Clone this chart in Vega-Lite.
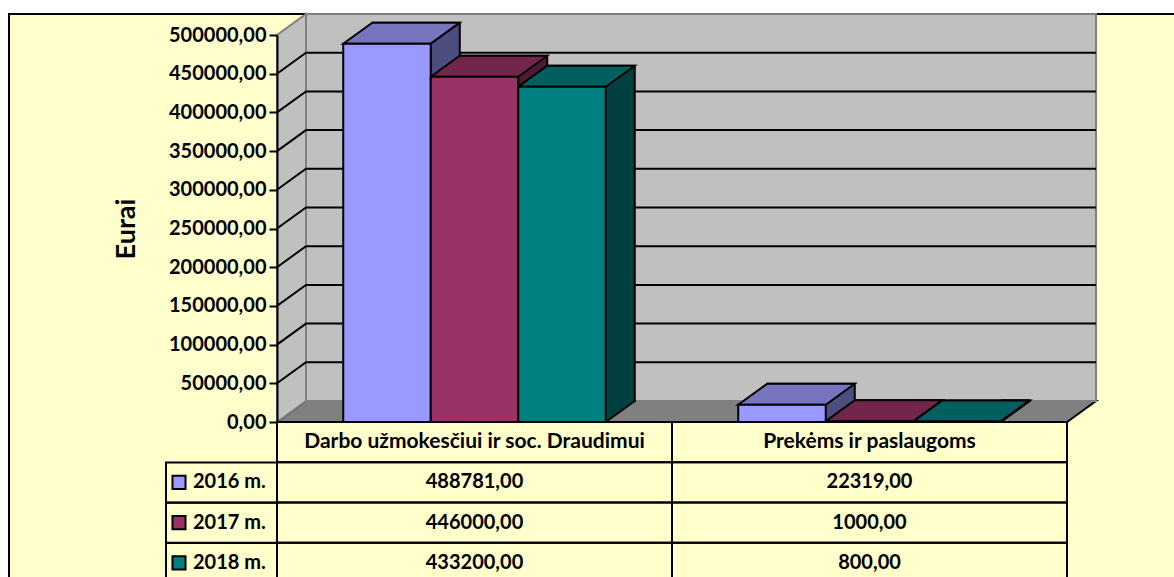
{
  "$schema": "https://vega.github.io/schema/vega-lite/v6.json",
  "width": 1167,
  "height": 565,
  "autosize": {"type": "none"},
  "padding": {"left": 9, "top": 14, "right": -2, "bottom": -2},
  "background": "#FFFFFF",
  "config": {
    "view": {"fill": "#FFFFCC", "stroke": "#000000", "strokeWidth": 2},
    "font": "Lato",
    "locale": {"number": {"decimal": ",", "thousands": "", "grouping": [3], "currency": ["", ""]}}
  },
  "datasets": {
    "main": [
      {"cat": "Darbo užmokesčiui ir soc. Draudimui", "year": "2016 m.", "value": 488781},
      {"cat": "Darbo užmokesčiui ir soc. Draudimui", "year": "2017 m.", "value": 446000},
      {"cat": "Darbo užmokesčiui ir soc. Draudimui", "year": "2018 m.", "value": 433200},
      {"cat": "Prekėms ir paslaugoms", "year": "2016 m.", "value": 22319},
      {"cat": "Prekėms ir paslaugoms", "year": "2017 m.", "value": 1000},
      {"cat": "Prekėms ir paslaugoms", "year": "2018 m.", "value": 800}
    ],
    "ticks": [
      {"v": 50000}, {"v": 100000}, {"v": 150000}, {"v": 200000}, {"v": 250000},
      {"v": 300000}, {"v": 350000}, {"v": 400000}, {"v": 450000}
    ],
    "one": [{}],
    "headers": [
      {"cat": "Darbo užmokesčiui ir soc. Draudimui"},
      {"cat": "Prekėms ir paslaugoms"}
    ]
  },
  "resolve": {"scale": {"y": "independent"}, "axis": {"y": "independent"}},
  "layer": [
    {
      "resolve": {"scale": {"xOffset": "independent"}},
      "layer": [
        {
          "data": {"name": "one"},
          "mark": {"type": "point", "shape": "M0,0 L29,-21 L819,-21 L790,0 Z", "size": 4, "filled": true, "fill": "#808080", "stroke": "#000000", "strokeWidth": 2, "opacity": 1},
          "encoding": {
            "x": {"datum": "Darbo užmokesčiui ir soc. Draudimui", "bandPosition": 0, "type": "nominal", "scale": {"type": "band", "domain": ["Darbo užmokesčiui ir soc. Draudimui", "Prekėms ir paslaugoms"], "range": [268, 1058], "paddingInner": 0, "paddingOuter": 0}, "axis": null},
            "y": {"datum": 0, "type": "quantitative", "scale": {"domain": [0, 500000], "range": [408, 21], "nice": false, "zero": true},
              "axis": {"offset": -268, "zindex": 1, "values": [0, 50000, 100000, 150000, 200000, 250000, 300000, 350000, 400000, 450000, 500000], "format": ".2f", "labelFont": "Lato", "labelFontWeight": "bold", "labelFontSize": 20, "labelColor": "#000000", "tickColor": "#000000", "tickWidth": 2, "tickSize": 8, "labelPadding": 3, "domainColor": "#000000", "domainWidth": 2, "grid": false, "title": "Eurai", "titleFont": "Lato", "titleFontSize": 27, "titleFontWeight": "bold", "titleColor": "#000000", "titlePadding": 28}}
          }
        },
        {
          "data": {"name": "one"},
          "mark": {"type": "point", "shape": "M29,-21 L819,-21 L819,-408 L29,-408 Z", "size": 4, "filled": true, "fill": "#C0C0C0", "stroke": "#808080", "strokeWidth": 2, "opacity": 1},
          "encoding": {
            "x": {"datum": "Darbo užmokesčiui ir soc. Draudimui", "bandPosition": 0, "type": "nominal"},
            "y": {"datum": 0, "type": "quantitative"}
          }
        },
        {
          "data": {"name": "one"},
          "mark": {"type": "point", "shape": "M0,0 L29,-21 L29,-408 L0,-387 Z", "size": 4, "filled": true, "fill": "#C0C0C0", "stroke": "#808080", "strokeWidth": 2, "opacity": 1},
          "encoding": {
            "x": {"datum": "Darbo užmokesčiui ir soc. Draudimui", "bandPosition": 0, "type": "nominal"},
            "y": {"datum": 0, "type": "quantitative"}
          }
        },
        {
          "data": {"name": "ticks"},
          "mark": {"type": "point", "shape": "M0,0 L29,-21 L819,-21", "size": 4, "filled": false, "stroke": "#000000", "strokeWidth": 2, "opacity": 1},
          "encoding": {
            "x": {"datum": "Darbo užmokesčiui ir soc. Draudimui", "bandPosition": 0, "type": "nominal"},
            "y": {"field": "v", "type": "quantitative"}
          }
        },
        {
          "data": {"name": "main"},
          "mark": {"type": "bar", "yOffset": -21, "y2Offset": -21, "stroke": "#000000", "strokeWidth": 2},
          "encoding": {
            "x": {"field": "cat", "type": "nominal"},
            "xOffset": {"field": "year", "type": "nominal", "scale": {"type": "band", "domain": ["2016 m.", "2017 m.", "2018 m."], "range": [29, 424], "paddingInner": 0, "paddingOuter": 0.757}},
            "y": {"field": "value", "type": "quantitative"},
            "fill": {"condition": [{"test": "datum.year === '2016 m.'", "value": "#4D4D80"}, {"test": "datum.year === '2017 m.'", "value": "#4D1933"}], "value": "#004040"}
          }
        },
        {
          "data": {"name": "main"},
          "mark": {"type": "point", "shape": "M43.75,-23 L72,-23 L72,-21 L43.75,0 Z", "size": 4, "filled": true, "strokeWidth": 0, "opacity": 1},
          "encoding": {
            "x": {"field": "cat", "type": "nominal"},
            "xOffset": {"field": "year", "type": "nominal", "scale": {"type": "band", "domain": ["2016 m.", "2017 m.", "2018 m."], "paddingInner": 0, "paddingOuter": 0.757}},
            "y": {"datum": 0, "type": "quantitative"},
            "fill": {"condition": [{"test": "datum.year === '2016 m.'", "value": "#4D4D80"}, {"test": "datum.year === '2017 m.'", "value": "#4D1933"}], "value": "#004040"}
          }
        },
        {
          "data": {"name": "main"},
          "mark": {"type": "point", "shape": "M43.75,0 L72.75,-21", "size": 4, "filled": false, "stroke": "#000000", "strokeWidth": 2, "opacity": 1},
          "encoding": {
            "x": {"field": "cat", "type": "nominal"},
            "xOffset": {"field": "year", "type": "nominal", "scale": {"type": "band", "domain": ["2016 m.", "2017 m.", "2018 m."], "paddingInner": 0, "paddingOuter": 0.757}},
            "y": {"datum": 0, "type": "quantitative"}
          }
        },
        {
          "data": {"name": "main"},
          "mark": {"type": "point", "shape": "M-43.75,0 L43.75,0 L72.75,-21 L-14.75,-21 Z", "size": 4, "filled": true, "stroke": "#000000", "strokeWidth": 2, "opacity": 1},
          "encoding": {
            "x": {"field": "cat", "type": "nominal"},
            "xOffset": {"field": "year", "type": "nominal", "scale": {"type": "band", "domain": ["2016 m.", "2017 m.", "2018 m."], "paddingInner": 0, "paddingOuter": 0.757}},
            "y": {"field": "value", "type": "quantitative"},
            "fill": {"condition": [{"test": "datum.year === '2016 m.'", "value": "#7676BF"}, {"test": "datum.year === '2017 m.'", "value": "#73264C"}], "value": "#006060"}
          }
        },
        {
          "data": {"name": "main"},
          "mark": {"type": "bar", "stroke": "#000000", "strokeWidth": 2},
          "encoding": {
            "x": {"field": "cat", "type": "nominal"},
            "xOffset": {"field": "year", "type": "nominal", "scale": {"type": "band", "domain": ["2016 m.", "2017 m.", "2018 m."], "paddingInner": 0, "paddingOuter": 0.757}},
            "y": {"field": "value", "type": "quantitative"},
            "fill": {"condition": [{"test": "datum.year === '2016 m.'", "value": "#9999FF"}, {"test": "datum.year === '2017 m.'", "value": "#993366"}], "value": "#008080"}
          }
        }
      ]
    },
    {
      "layer": [
        {
          "data": {"name": "main"},
          "mark": {"type": "rect", "fill": "transparent", "stroke": "#000000", "strokeWidth": 2},
          "encoding": {
            "x": {"field": "cat", "type": "nominal"},
            "y": {"field": "year", "type": "nominal", "scale": {"type": "band", "domain": ["hdr", "2016 m.", "2017 m.", "2018 m."], "range": [408, 569], "paddingInner": 0, "paddingOuter": 0}, "axis": null}
          }
        },
        {
          "data": {"name": "headers"},
          "mark": {"type": "rect", "fill": "transparent", "stroke": "#000000", "strokeWidth": 2},
          "encoding": {
            "x": {"field": "cat", "type": "nominal"},
            "y": {"datum": "hdr", "type": "nominal"}
          }
        },
        {
          "data": {"name": "main"},
          "transform": [{"filter": "datum.cat === 'Prekėms ir paslaugoms'"}],
          "mark": {"type": "point", "shape": "M-111,-20 L0,-20 L0,20 L-111,20 Z", "size": 4, "filled": false, "stroke": "#000000", "strokeWidth": 2, "opacity": 1},
          "encoding": {
            "x": {"datum": "Darbo užmokesčiui ir soc. Draudimui", "bandPosition": 0, "type": "nominal"},
            "y": {"field": "year", "type": "nominal"}
          }
        },
        {
          "data": {"name": "main"},
          "transform": [{"filter": "datum.cat === 'Prekėms ir paslaugoms'"}],
          "mark": {"type": "point", "shape": "square", "size": 170, "filled": true, "stroke": "#000000", "strokeWidth": 2, "opacity": 1, "xOffset": -98},
          "encoding": {
            "x": {"datum": "Darbo užmokesčiui ir soc. Draudimui", "bandPosition": 0, "type": "nominal"},
            "y": {"field": "year", "type": "nominal"},
            "fill": {"condition": [{"test": "datum.year === '2016 m.'", "value": "#9999FF"}, {"test": "datum.year === '2017 m.'", "value": "#993366"}], "value": "#008080"}
          }
        },
        {
          "data": {"name": "main"},
          "transform": [{"filter": "datum.cat === 'Prekėms ir paslaugoms'"}],
          "mark": {"type": "text", "align": "left", "baseline": "middle", "dx": -84, "font": "Lato", "fontWeight": "bold", "fontSize": 20, "color": "#000000"},
          "encoding": {
            "x": {"datum": "Darbo užmokesčiui ir soc. Draudimui", "bandPosition": 0, "type": "nominal"},
            "y": {"field": "year", "type": "nominal"},
            "text": {"field": "year"}
          }
        },
        {
          "data": {"name": "main"},
          "mark": {"type": "text", "align": "center", "baseline": "middle", "font": "Lato", "fontWeight": "bold", "fontSize": 20, "color": "#000000"},
          "encoding": {
            "x": {"field": "cat", "type": "nominal"},
            "y": {"field": "year", "type": "nominal"},
            "text": {"field": "value", "type": "quantitative", "format": ".2f"}
          }
        },
        {
          "data": {"name": "headers"},
          "mark": {"type": "text", "align": "center", "baseline": "middle", "font": "Lato", "fontWeight": "bold", "fontSize": 21, "color": "#000000"},
          "encoding": {
            "x": {"field": "cat", "type": "nominal"},
            "y": {"datum": "hdr", "type": "nominal"},
            "text": {"field": "cat"}
          }
        }
      ]
    }
  ]
}
